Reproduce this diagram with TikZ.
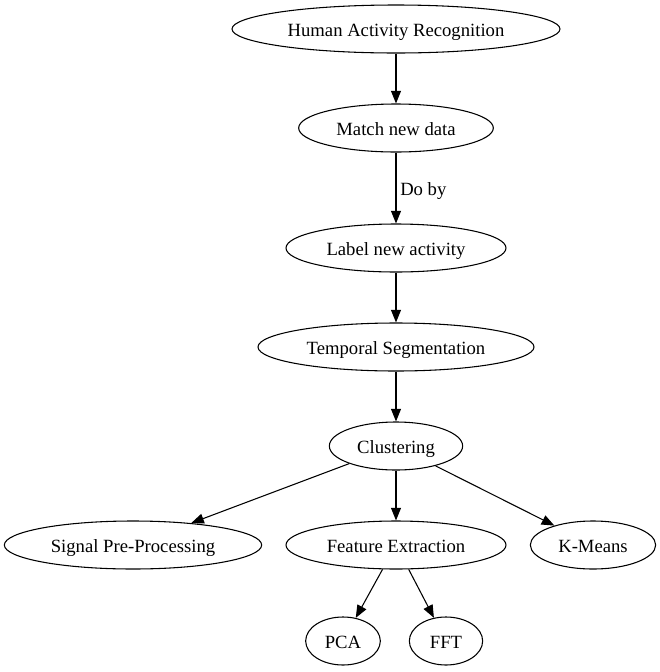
\documentclass[tikz,border=0pt]{standalone}
\usepackage{fontspec}
\setmainfont{Liberation Serif}
\usetikzlibrary{shapes.geometric,arrows.meta}
\begin{document}
\begin{tikzpicture}[x=0.75pt,y=-0.75pt,
  nd/.style={ellipse,draw,line width=0.8pt,inner sep=0pt,minimum height=36pt,text height=11.6pt,text depth=0pt,font=\fontsize{14}{16}\selectfont},
  ed/.style={draw,line width=0.8pt,-{Triangle[length=9.5pt,width=7.5pt]}},
  lb/.style={font=\fontsize{14}{16}\selectfont,inner sep=0pt}]
\useasboundingbox (0,0) rectangle (660,672);
\node[nd,minimum width=246pt] (har) at (396,29) {Human Activity Recognition};
\node[nd,minimum width=146pt] (match) at (396,128) {Match new data};
\node[nd,minimum width=165pt] (label) at (396,248) {Label new activity};
\node[nd,minimum width=207pt] (temp) at (396,347) {Temporal Segmentation};
\node[nd,minimum width=100pt] (clus) at (396,446) {Clustering};
\node[nd,minimum width=193pt] (sig) at (133,545) {Signal Pre-Processing};
\node[nd,minimum width=165pt] (feat) at (396,545) {Feature Extraction};
\node[nd,minimum width=94pt] (km) at (593,545) {K-Means};
\node[nd,minimum width=56pt] (pca) at (343,641) {PCA};
\node[nd,minimum width=55pt] (fft) at (446,641) {FFT};
\node[lb,anchor=base west] (doby) at (400,195) {Do by};
\path[ed] (har) -- (match);
\path[ed] (match) -- (label);
\path[ed] (label) -- (temp);
\path[ed] (temp) -- (clus);
\path[ed] (clus) -- (sig);
\path[ed] (clus) -- (feat);
\path[ed] (clus) -- (km);
\path[ed] (feat) -- (pca);
\path[ed] (feat) -- (fft);
\end{tikzpicture}
\end{document}
